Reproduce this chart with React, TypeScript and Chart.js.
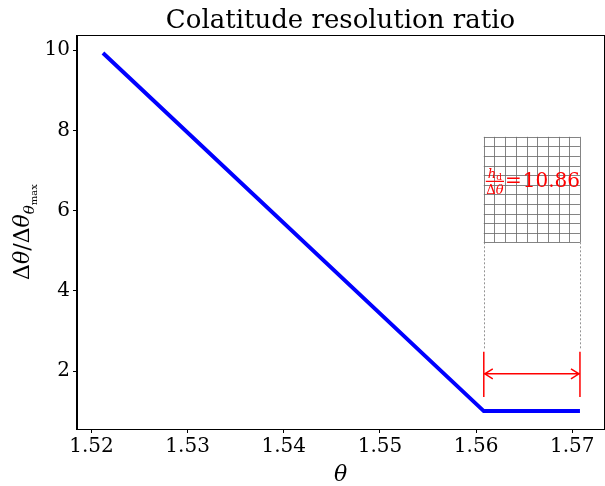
import React, { useEffect, useRef } from "react";
import { Chart, registerables } from "chart.js";

Chart.register(...registerables);

// Data
const thetaValues = [1.5212, 1.5608, 1.5708];
const ratioValues = [9.93, 1.0, 1.0];

// Axes
const xTicks = [1.52, 1.53, 1.54, 1.55, 1.56, 1.57];
const yTicks = [2, 4, 6, 8, 10];
const xRange = [1.5185, 1.5733];
const yRange = [0.554, 10.38];

// Annotation (data coordinates)
const gridXRange = [1.5608, 1.5708];
const gridYRange = [5.21, 7.84];
const gridCols = 9;
const gridRows = 11;
const dottedYRange = [2.53, 5.21];
const markerYRange = [1.35, 2.48];
const arrowY = 1.93;
const ratioText = "10.86";
const ratioLabelY = 6.72;

const titleText = "Colatitude resolution ratio";
const SERIF = "'DejaVu Serif', serif";

const annotationPlugin = {
  id: "annot",
  afterDatasetsDraw(chart: any) {
    const ctx = chart.ctx as CanvasRenderingContext2D;
    const xs = chart.scales.x;
    const ys = chart.scales.y;
    const x0 = xs.getPixelForValue(gridXRange[0]);
    const x1 = xs.getPixelForValue(gridXRange[1]);
    const yTop = ys.getPixelForValue(gridYRange[1]);
    const yBot = ys.getPixelForValue(gridYRange[0]);
    ctx.save();
    // grid
    ctx.strokeStyle = "rgba(110,110,110,0.85)";
    ctx.lineWidth = 1;
    ctx.beginPath();
    for (let i = 0; i <= gridCols; i++) {
      const x = Math.round(x0 + ((x1 - x0) * i) / gridCols) + 0.5;
      ctx.moveTo(x, yTop);
      ctx.lineTo(x, yBot);
    }
    for (let j = 0; j <= gridRows; j++) {
      const y = Math.round(yTop + ((yBot - yTop) * j) / gridRows) + 0.5;
      ctx.moveTo(x0, y);
      ctx.lineTo(x1, y);
    }
    ctx.stroke();
    // dotted connectors
    ctx.strokeStyle = "rgba(120,120,120,0.8)";
    ctx.setLineDash([2, 2]);
    ctx.beginPath();
    const dy0 = ys.getPixelForValue(dottedYRange[1]);
    const dy1 = ys.getPixelForValue(dottedYRange[0]);
    ctx.moveTo(Math.round(x0) + 0.5, dy0);
    ctx.lineTo(Math.round(x0) + 0.5, dy1);
    ctx.moveTo(Math.round(x1) + 0.5, dy0);
    ctx.lineTo(Math.round(x1) + 0.5, dy1);
    ctx.stroke();
    ctx.setLineDash([]);
    // red markers
    ctx.strokeStyle = "#ff0000";
    ctx.lineWidth = 1.5;
    const my0 = ys.getPixelForValue(markerYRange[1]);
    const my1 = ys.getPixelForValue(markerYRange[0]);
    ctx.beginPath();
    ctx.moveTo(x0, my0);
    ctx.lineTo(x0, my1);
    ctx.moveTo(x1, my0);
    ctx.lineTo(x1, my1);
    const ay = ys.getPixelForValue(arrowY);
    ctx.moveTo(x0, ay);
    ctx.lineTo(x1, ay);
    // arrow heads
    ctx.moveTo(x0 + 9, ay - 5);
    ctx.lineTo(x0 + 1, ay);
    ctx.lineTo(x0 + 9, ay + 5);
    ctx.moveTo(x1 - 9, ay - 5);
    ctx.lineTo(x1 - 1, ay);
    ctx.lineTo(x1 - 9, ay + 5);
    ctx.stroke();
    // equation text
    const ly = ys.getPixelForValue(ratioLabelY);
    ctx.fillStyle = "#ff0000";
    const fx = x0 + 2;
    ctx.textBaseline = "alphabetic";
    ctx.textAlign = "left";
    ctx.font = "italic 13px " + SERIF;
    const hW = ctx.measureText("h").width;
    ctx.font = "9px " + SERIF;
    const dW = ctx.measureText("d").width;
    ctx.font = "13px " + SERIF;
    const DW = ctx.measureText("Δ").width;
    ctx.font = "italic 13px " + SERIF;
    const tW = ctx.measureText("θ").width;
    const fracW = Math.max(hW + dW, DW + tW) + 1;
    const fcx = fx + fracW / 2;
    // numerator
    const nx = fcx - (hW + dW) / 2;
    ctx.font = "italic 13px " + SERIF;
    ctx.fillText("h", nx, ly - 4);
    ctx.font = "9px " + SERIF;
    ctx.fillText("d", nx + hW, ly - 2);
    // bar
    ctx.fillRect(fx, ly - 1, fracW, 1.2);
    // denominator
    const dx = fcx - (DW + tW) / 2;
    ctx.font = "13px " + SERIF;
    ctx.fillText("Δ", dx, ly + 12);
    ctx.font = "italic 13px " + SERIF;
    ctx.fillText("θ", dx + DW, ly + 12);
    // = 10.86
    ctx.font = "20px " + SERIF;
    ctx.textBaseline = "middle";
    ctx.fillText("=", fx + fracW + 1, ly);
    const eqW = ctx.measureText("=").width;
    ctx.fillText(ratioText, fx + fracW + 2 + eqW, ly);
    ctx.restore();
  },
  afterDraw(chart: any) {
    const ctx = chart.ctx as CanvasRenderingContext2D;
    const a = chart.chartArea;
    ctx.save();
    // frame
    ctx.strokeStyle = "#000";
    ctx.lineWidth = 1;
    ctx.strokeRect(Math.round(a.left) - 0.5, Math.round(a.top) + 0.5, Math.round(a.right) - Math.round(a.left) + 1, Math.round(a.bottom) - Math.round(a.top));
    // title
    ctx.fillStyle = "#000";
    ctx.font = "26px " + SERIF;
    ctx.textAlign = "center";
    ctx.textBaseline = "alphabetic";
    ctx.fillText(titleText, (a.left + a.right) / 2, 28);
    // x label
    ctx.font = "italic 22px " + SERIF;
    ctx.fillText("θ", (a.left + a.right) / 2, 481);
    // y label: Δθ/Δθ_{θ_max}
    ctx.translate(29, (a.top + a.bottom) / 2);
    ctx.rotate(-Math.PI / 2);
    ctx.textAlign = "left";
    const parts: [string, string, number][] = [
      ["Δ", "22px ", 0],
      ["θ", "italic 22px ", 0],
      ["/Δ", "22px ", 0],
      ["θ", "italic 22px ", 0],
      ["θ", "italic 15px ", 5],
      ["max", "10px ", 8],
    ];
    let total = 0;
    for (const p of parts) {
      ctx.font = p[1] + SERIF;
      total += ctx.measureText(p[0]).width;
    }
    let cx = -total / 2;
    for (const p of parts) {
      ctx.font = p[1] + SERIF;
      ctx.fillText(p[0], cx, p[2]);
      cx += ctx.measureText(p[0]).width;
    }
    ctx.restore();
  },
};

export default function App() {
  const ref = useRef<HTMLCanvasElement>(null);
  useEffect(() => {
    if (!ref.current) return;
    const chart = new Chart(ref.current, {
      type: "line",
      data: {
        datasets: [
          {
            data: thetaValues.map((t, i) => ({ x: t, y: ratioValues[i] })),
            borderColor: "#0000ff",
            borderWidth: 4,
            pointRadius: 0,
            fill: false,
            tension: 0,
          },
        ],
      },
      options: {
        animation: false,
        responsive: false,
        maintainAspectRatio: false,
        layout: { padding: { top: 35, right: 1, left: 0, bottom: 0 } },
        plugins: { legend: { display: false }, tooltip: { enabled: false }, title: { display: false } },
        scales: {
          x: {
            type: "linear",
            min: xRange[0],
            max: xRange[1],
            afterBuildTicks: (s: any) => {
              s.ticks = xTicks.map((v) => ({ value: v }));
            },
            afterFit: (s: any) => {
              s.height = 57;
            },
            ticks: {
              font: { family: SERIF, size: 20 },
              color: "#000",
              padding: 2,
              maxRotation: 0,
              callback: (v: any) => Number(v).toFixed(2),
            },
            grid: { drawOnChartArea: false, drawTicks: true, tickLength: 4, color: "#000" },
            border: { display: true, color: "#000" },
          },
          y: {
            type: "linear",
            min: yRange[0],
            max: yRange[1],
            afterBuildTicks: (s: any) => {
              s.ticks = yTicks.map((v) => ({ value: v }));
            },
            afterFit: (s: any) => {
              s.width = 77;
            },
            ticks: {
              font: { family: SERIF, size: 20 },
              color: "#000",
              padding: 3,
              callback: (v: any) => String(v),
            },
            grid: { drawOnChartArea: false, drawTicks: true, tickLength: 4, color: "#000" },
            border: { display: true, color: "#000" },
          },
        },
      },
      plugins: [annotationPlugin],
    });
    return () => chart.destroy();
  }, []);
  return (
    <div style={{ position: "fixed", left: 0, top: 0, width: 605, height: 486, background: "#fff" }}>
      <canvas ref={ref} width={605} height={486} style={{ width: 605, height: 486 }} />
    </div>
  );
}
